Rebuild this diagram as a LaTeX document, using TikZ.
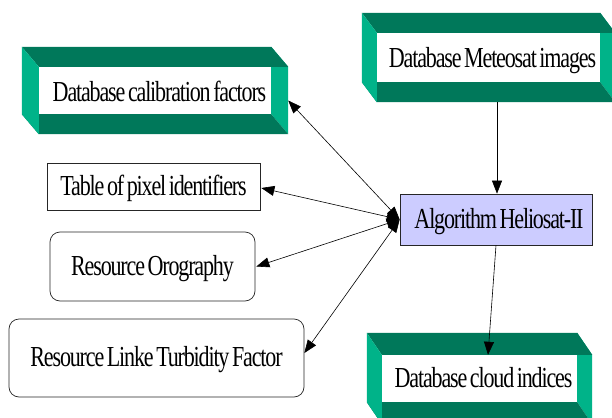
\documentclass[tikz,border=0pt]{standalone}
\usepackage{fontspec}
\usetikzlibrary{arrows.meta,calc}
\newfontfamily\dfont[FakeStretch=0.76,LetterSpace=-4,WordSpace=0.6]{Liberation Serif}
\definecolor{dgreen}{RGB}{0,120,90}
\definecolor{lgreen}{RGB}{0,179,137}
\definecolor{lav}{RGB}{204,204,255}
\tikzset{
  dfnt/.style={font=\dfont\fontsize{29}{33}\selectfont},
  lbl/.style={dfnt, inner sep=0pt, anchor=base},
  face/.style={fill=white, draw=none, inner sep=0pt},
  plainbox/.style={dfnt, draw=black!85, line width=0.7pt, fill=white, inner sep=0pt,
                   text height=17pt, text depth=0pt},
  roundbox/.style={plainbox, rounded corners=10pt},
  algbox/.style={plainbox, fill=lav},
  tip/.tip={Triangle[length=13pt,width=10pt]},
  conn/.style={line width=0.6pt, -tip},
  biconn/.style={line width=0.6pt, tip-tip},
}
% #1 face node, #2 dx, #3 dy
\newcommand\dbframe[3]{%
  \fill[lgreen] ($(#1.north east)+(0,-#3)$) -- ($(#1.north east)+(#2,0)$) --
     ($(#1.south east)+(#2,#3)$) -- (#1.south east) -- cycle;
  \fill[dgreen] ($(#1.north west)+(-#2,-#3)$) -- ($(#1.north east)+(0,-#3)$) --
     ($(#1.north east)+(#2,0)$) -- (#1.north west) -- cycle;
  \fill[dgreen] ($(#1.south west)+(-#2,0)$) -- (#1.south east) --
     ($(#1.south east)+(#2,#3)$) -- ($(#1.south west)+(0,#3)$) -- cycle;
  \fill[lgreen] ($(#1.north west)+(-#2,-#3)$) -- (#1.north west) --
     ($(#1.south west)+(0,#3)$) -- ($(#1.south west)+(-#2,0)$) -- cycle;
}
\begin{document}
\begin{tikzpicture}[x=1pt,y=-1pt]
\useasboundingbox (0,0) rectangle (612,417);
\clip (0,0) rectangle (612,417);
\fill[white] (0,0) rectangle (612,417);

% database boxes
\node[face, minimum width=232pt, minimum height=47pt] (calF) at (155,90.5) {};
\dbframe{calF}{17}{20}
\node[lbl] (cal) at (159.5,102) {Database calibration factors};

\node[face, minimum width=223pt, minimum height=49pt] (metF) at (488.5,57.5) {};
\dbframe{metF}{15}{20}
\node[lbl] (met) at (492.5,68) {Database Meteosat images};

\node[face, minimum width=195pt, minimum height=47pt] (cloF) at (479.5,378.5) {};
\dbframe{cloF}{15}{22}
\node[lbl] (clo) at (483.5,387) {Database cloud indices};

% plain boxes
\node[plainbox, minimum width=213pt, minimum height=47pt] (tab) at (153.5,186.5) {Table of pixel identifiers};
\node[roundbox, minimum width=205pt, minimum height=69pt] (oro) at (152.5,266.5) {Resource Orography};
\node[roundbox, minimum width=295pt, minimum height=78pt] (lin) at (156.5,358) {Resource Linke Turbidity Factor};
\node[algbox, minimum width=192pt, minimum height=51pt] (alg) at (496,219.5) {\hspace{6pt}Algorithm Heliosat-II};

% connector ends
\coordinate (calR) at ($(calF.east)+(17,10)$);
\coordinate (metB) at ($(metF.south)+(8.5,20)$);
\coordinate (cloT) at ($(cloF.north)+(8.5,0)$);

% connectors
\draw[biconn] (alg.west) -- (calR);
\draw[biconn] (alg.west) -- ([shift={(1pt,-1.5pt)}]tab.east);
\draw[biconn] (alg.west) -- ([shift={(1pt,0pt)}]oro.east);
\draw[biconn] (alg.west) -- ([yshift=5pt]lin.east);
\draw[conn] (metB) -- (metB |- alg.north);
\draw[conn] (alg.south) -- (cloT);
\end{tikzpicture}
\end{document}
